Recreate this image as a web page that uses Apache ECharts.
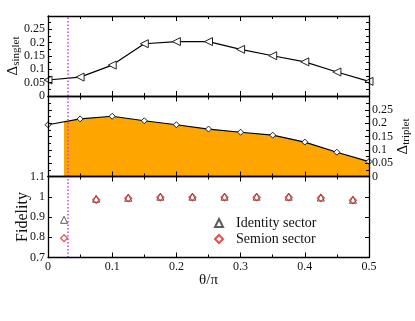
<!DOCTYPE html>
<html><head><meta charset="utf-8">
<script src="https://cdn.jsdelivr.net/npm/echarts@6/dist/echarts.min.js"></script>
<style>html,body{margin:0;padding:0;background:#fff}#c{width:415px;height:321px}</style>
</head><body><div id="c"></div>
<script>
const theta = [0, 0.05, 0.1, 0.15, 0.2, 0.25, 0.3, 0.35, 0.4, 0.45, 0.5];
const singletGap = [0.06, 0.071, 0.116, 0.196, 0.204, 0.204, 0.175, 0.151, 0.128, 0.09, 0.055];
const tripletGap = [0.194, 0.216, 0.226, 0.209, 0.194, 0.178, 0.166, 0.155, 0.129, 0.091, 0.056];
const thetaFid = [0.025, 0.075, 0.125, 0.175, 0.225, 0.275, 0.325, 0.375, 0.425, 0.475];
const identityFid = [0.886, 0.99, 0.995, 1.0, 1.0, 1.0, 1.0, 1.0, 0.996, 0.985];
const semionFid = [0.795, 0.985, 0.993, 0.998, 0.998, 0.998, 0.998, 0.998, 0.994, 0.983];
const xTickLabels = ['0', '0.1', '0.2', '0.3', '0.4', '0.5'];
const transitionTheta = 0.025;

const FONT = 'Liberation Serif';
const pair = (xs, ys) => xs.map((x, i) => [x, ys[i]]);

function xAx(grid, pos, showLabel) {
  return {
    type: 'value', gridIndex: grid, position: pos, min: 0, max: 0.5, interval: 0.1, z: 10,
    axisLine: {show: true, onZero: false, lineStyle: {color: '#000', width: 1.3}},
    axisTick: {show: true, inside: true, length: 5, lineStyle: {color: '#000'}},
    minorTick: {show: true, splitNumber: 2, length: 3, lineStyle: {color: '#000'}},
    splitLine: {show: false},
    axisLabel: {show: showLabel, margin: 3, color: '#111', fontFamily: FONT, fontSize: 12,
      formatter: v => xTickLabels[Math.round(v * 10)]},
  };
}
function yAx(grid, pos, min, max, interval, showLabel, minor, extra) {
  return Object.assign({
    type: 'value', gridIndex: grid, position: pos, min: min, max: max, interval: interval, z: 10,
    nameMoveOverlap: false,
    axisLine: {show: true, onZero: false, lineStyle: {color: '#000', width: 1.3}},
    axisTick: {show: true, inside: true, length: 4, lineStyle: {color: '#000'}},
    minorTick: {show: minor, splitNumber: 2, length: 3, lineStyle: {color: '#000'}},
    splitLine: {show: false},
    axisLabel: {show: showLabel, margin: 3, color: '#111', fontFamily: FONT, fontSize: 12},
  }, extra || {});
}

const vline = {
  silent: true, symbol: 'none', label: {show: false},
  lineStyle: {type: [1.5, 2], color: '#c040f0', width: 1.5},
  data: [{xAxis: transitionTheta}]
};

const gridBase = {left: 48, right: 46, containLabel: false, outerBoundsMode: 'none'};
const option = {
  animation: false,
  backgroundColor: '#fff',
  grid: [
    Object.assign({top: 16, height: 80}, gridBase),
    Object.assign({top: 96.5, height: 80}, gridBase),
    Object.assign({top: 176.5, height: 81}, gridBase)
  ],
  xAxis: [
    xAx(0, 'bottom', false), xAx(0, 'top', false),
    xAx(1, 'bottom', false), xAx(1, 'top', false),
    Object.assign(xAx(2, 'bottom', true), {name: 'θ/π', nameLocation: 'middle', nameGap: 15,
      nameMoveOverlap: false,
      nameTextStyle: {fontFamily: FONT, fontSize: 15, color: '#111'}}),
    xAx(2, 'top', false)
  ],
  yAxis: [
    yAx(0, 'left', 0, 0.3, 0.05, true, true, {
      axisLabel: {show: true, margin: 3, color: '#111', fontFamily: FONT, fontSize: 12, showMaxLabel: false},
      name: '{d|Δ}{s|singlet}', nameLocation: 'middle', nameGap: 26, nameRotate: 90,
      nameTextStyle: {rich: {d: {fontFamily: FONT, fontSize: 15, color: '#111'},
        s: {fontFamily: FONT, fontSize: 11, color: '#111', padding: [7, 0, 0, 0]}}}}),
    yAx(0, 'right', 0, 0.3, 0.05, false, true),
    yAx(1, 'left', 0, 0.3, 0.05, false, true),
    yAx(1, 'right', 0, 0.3, 0.05, true, true, {
      axisLabel: {show: true, margin: 3, color: '#111', fontFamily: FONT, fontSize: 12, showMaxLabel: false},
      name: '{d|Δ}{s|triplet}', nameLocation: 'middle', nameGap: 25, nameRotate: 90,
      nameTextStyle: {rich: {d: {fontFamily: FONT, fontSize: 15, color: '#111'},
        s: {fontFamily: FONT, fontSize: 11, color: '#111', padding: [7, 0, 0, 0]}}}}),
    yAx(2, 'left', 0.7, 1.1, 0.1, true, false, {
      name: 'Fidelity', nameLocation: 'middle', nameGap: 17, nameRotate: 90,
      nameTextStyle: {fontFamily: FONT, fontSize: 16, color: '#111'}}),
    yAx(2, 'right', 0.7, 1.1, 0.1, false, false)
  ],
  legend: {
    orient: 'vertical', left: 209, top: 211, itemGap: 2, itemWidth: 8, itemHeight: 8,
    data: ['Identity sector', 'Semion sector'],
    textStyle: {fontFamily: FONT, fontSize: 14, color: '#111', padding: [0, 0, 0, 8]},
    selectedMode: false
  },
  series: [
    {
      type: 'line', name: 'singlet', xAxisIndex: 0, yAxisIndex: 0, data: pair(theta, singletGap),
      symbol: 'triangle', symbolRotate: 90, symbolSize: 8, showAllSymbol: true,
      lineStyle: {color: '#000', width: 1.2},
      itemStyle: {color: '#fff', borderColor: '#222', borderWidth: 1},
      markLine: vline, z: 3
    },
    {
      type: 'line', name: 'triplet', xAxisIndex: 2, yAxisIndex: 3, data: pair(theta, tripletGap),
      symbol: 'diamond', symbolSize: 6, showAllSymbol: true,
      lineStyle: {color: '#000', width: 1.2},
      itemStyle: {color: '#fff', borderColor: '#222', borderWidth: 1},
      areaStyle: {opacity: 1, origin: 'start', color: new echarts.graphic.LinearGradient(0, 0, 1, 0, [
        {offset: 0, color: 'rgba(255,165,0,0)'},
        {offset: transitionTheta / 0.5, color: 'rgba(255,165,0,0)'},
        {offset: transitionTheta / 0.5, color: '#ffa500'},
        {offset: 1, color: '#ffa500'}
      ])},
      markLine: vline, z: 3
    },
    {
      type: 'scatter', name: 'Identity sector', xAxisIndex: 4, yAxisIndex: 4, data: pair(thetaFid, identityFid),
      symbol: 'triangle', symbolSize: 7,
      itemStyle: {color: 'rgba(255,255,255,0)', borderColor: '#333', borderWidth: 1},
      markLine: vline, z: 3
    },
    {
      type: 'scatter', name: 'Semion sector', xAxisIndex: 4, yAxisIndex: 4, data: pair(thetaFid, semionFid),
      symbol: 'diamond', symbolSize: 7,
      itemStyle: {color: 'rgba(255,255,255,0)', borderColor: '#e02020', borderWidth: 1.2},
      z: 4
    }
  ]
};
const chart = echarts.init(document.getElementById('c'), null, {renderer: 'canvas'});
chart.setOption(option);
</script></body></html>
